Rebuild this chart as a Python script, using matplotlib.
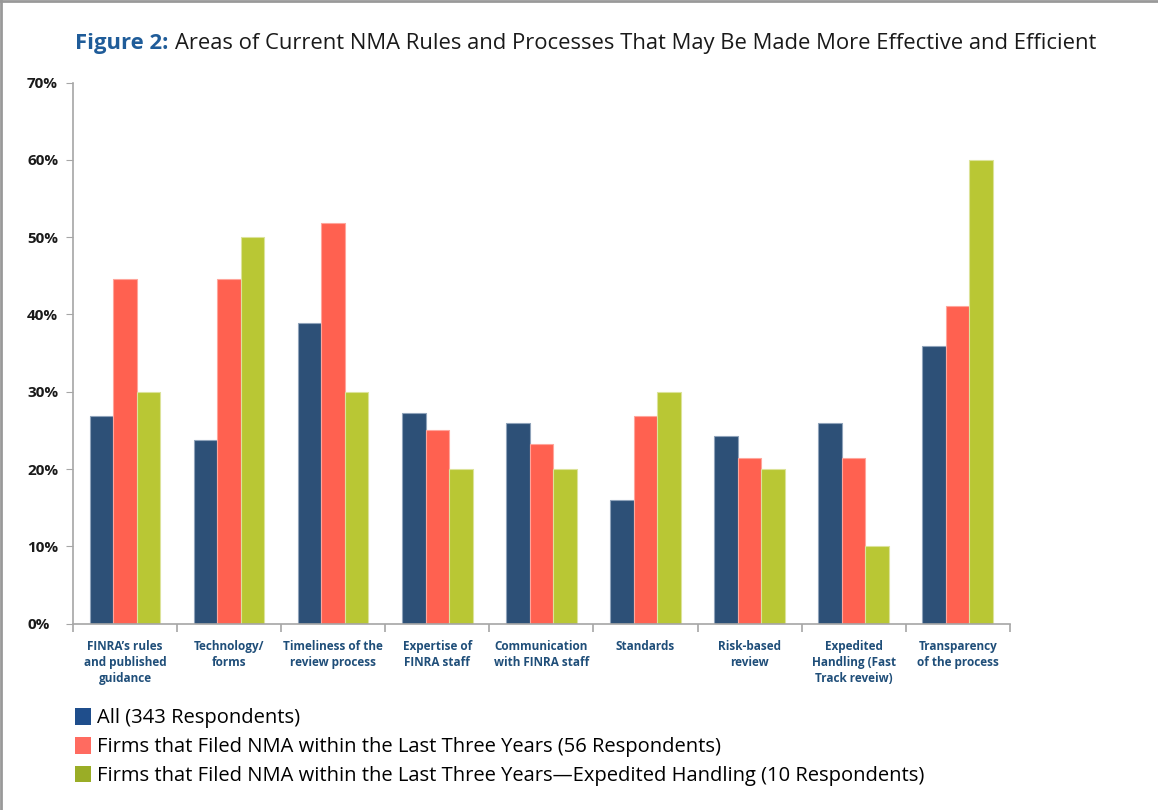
import matplotlib.pyplot as plt
import numpy as np
from matplotlib.patches import Patch
from matplotlib.lines import Line2D

plt.rcParams['font.family'] = ['Open Sans', 'DejaVu Sans']

categories = ["FINRA\u2019s rules\nand published\nguidance", "Technology/\nforms",
              "Timeliness of the\nreview process", "Expertise of\nFINRA staff",
              "Communication\nwith FINRA staff", "Standards", "Risk-based\nreview",
              "Expedited\nHandling (Fast\nTrack reveiw)", "Transparency\nof the process"]
all_resp = [26.8, 23.7, 38.9, 27.2, 26.0, 16.0, 24.3, 26.0, 35.9]
filed_3y = [44.6, 44.6, 51.8, 25.0, 23.2, 26.8, 21.4, 21.4, 41.1]
expedited = [30.0, 50.0, 30.0, 20.0, 20.0, 30.0, 20.0, 10.0, 60.0]
series_names = ["All (343 Respondents)",
                "Firms that Filed NMA within the Last Three Years (56 Respondents)",
                "Firms that Filed NMA within the Last Three Years\u2014Expedited Handling (10 Respondents)"]
yticks = [0, 10, 20, 30, 40, 50, 60, 70]

bar_colors = ['#2D5077', '#FF6150', '#B9C734']
edge_colors = ['#8FA3BA', '#FFA59B', '#DCE39A']
legend_colors = ['#1F4E8C', '#FF6B60', '#9AAD26']
grey = '#A6A6A6'

fig = plt.figure(figsize=(11.58, 8.10), dpi=100)
ax = fig.add_axes([0.063, 0.2301, 0.809, 0.668])

x = np.arange(len(categories))
w = 0.226
for i, vals in enumerate([all_resp, filed_3y, expedited]):
    ax.bar(x + (i - 1) * w, vals, width=w, color=bar_colors[i],
           edgecolor=edge_colors[i], linewidth=0.8)

ax.set_xlim(-0.5, len(categories) - 0.5)
ax.set_ylim(0, 70)
ax.set_yticks(yticks)
ax.set_yticklabels([f"{v}%" for v in yticks], fontsize=11, fontweight='bold',
                   color='#1a1a1a', ha='left')
ax.tick_params(axis='y', direction='out', length=5, color=grey, pad=28)

ax.set_xticks(x)
ax.set_xticklabels(categories, fontsize=8.5, fontweight='bold', color='#1F4E79',
                   linespacing=1.3, va='top')
ax.tick_params(axis='x', length=0, pad=12)
ax.set_xticks(np.arange(-0.5, len(categories)), minor=True)
ax.tick_params(axis='x', which='minor', direction='out', length=6, color=grey, width=1.2)

for s in ['top', 'right']:
    ax.spines[s].set_visible(False)
for s in ['left', 'bottom']:
    ax.spines[s].set_color(grey)
    ax.spines[s].set_linewidth(1.2)

# title: bold part then regular part right after it
ty = 1 - 43 / 810
t1 = fig.text(0.065, ty, "Figure 2:", fontsize=15.8, fontweight='bold',
              color='#1F5C99', va='center')
fig.canvas.draw()
bb = t1.get_window_extent()
fig.text(bb.x1 / fig.bbox.width + 6 / 1158, ty,
         "Areas of Current NMA Rules and Processes That May Be Made More Effective and Efficient",
         fontsize=15.8, color='#1a1a1a', va='center')

handles = [Patch(facecolor=c, edgecolor='none') for c in legend_colors]
fig.legend(handles, series_names, loc='upper left', bbox_to_anchor=(0.058, 1 - 700 / 810),
           frameon=False, fontsize=14.5, handlelength=0.8, handleheight=0.9,
           handletextpad=0.3, labelspacing=0.42, borderaxespad=0)

fig.add_artist(Line2D([0.001, 0.001], [0, 1], transform=fig.transFigure, color='#999999', lw=2))
fig.add_artist(Line2D([0, 1], [0.999, 0.999], transform=fig.transFigure, color='#999999', lw=2))

fig.savefig('out.png', dpi=100)
